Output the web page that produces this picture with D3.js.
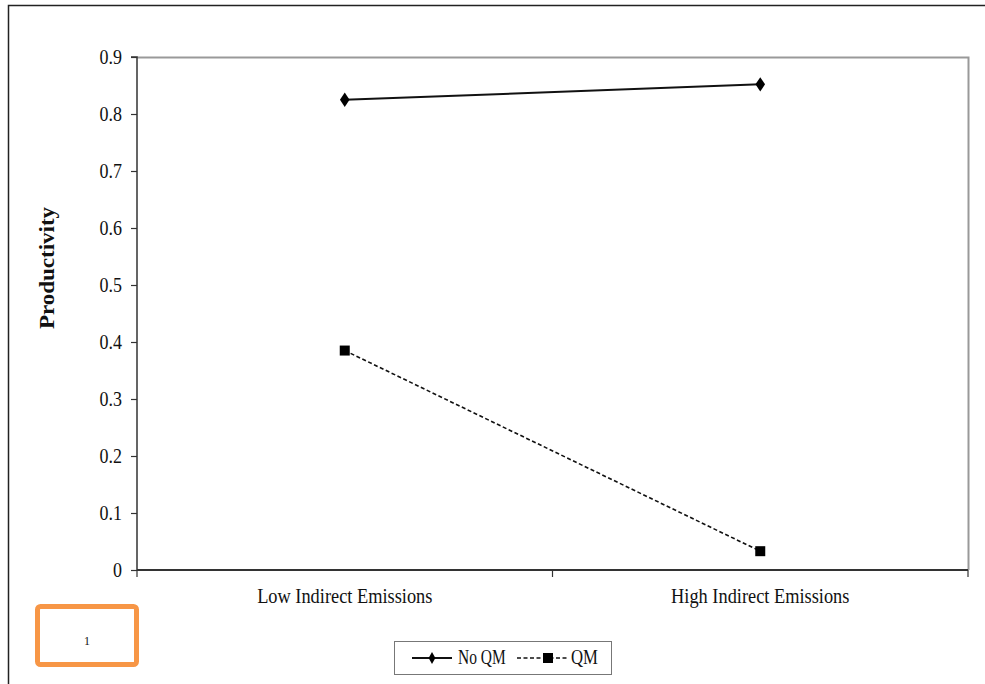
<!DOCTYPE html>
<html><head><meta charset="utf-8">
<script src="https://cdn.jsdelivr.net/npm/d3@7"></script>
<style>body{margin:0;background:#fff}svg{display:block}text{font-family:"Liberation Serif","Times New Roman",serif}</style>
</head><body>
<svg id="c" width="985" height="684"></svg>
<script>
const categories = ["Low Indirect Emissions", "High Indirect Emissions"];
const seriesNames = ["No QM", "QM"];
const noQM = [0.825, 0.852];
const qm = [0.385, 0.033];
const yTicks = [0, 0.1, 0.2, 0.3, 0.4, 0.5, 0.6, 0.7, 0.8, 0.9];

const svg = d3.select("#c");
const SY = 1.15; // vertical stretch of text, as in the reference
// outer frame
svg.append("path").attr("d","M8.5,690 V5.5 H990").attr("fill","none").attr("stroke","#222").attr("stroke-width",1.5);

const L=137, R=968, T=57, B=570;
const x = d3.scaleBand().domain(categories).range([L,R]).padding(0);
const y = d3.scaleLinear().domain([0,0.9]).range([B,T]);

// plot frame (gray top/right)
svg.append("path").attr("d",`M${L},${T+0.5} H${R+0.5} V${B}`).attr("fill","none").attr("stroke","#999").attr("stroke-width",2);

// y axis
const ya = svg.append("g").attr("transform",`translate(${L},0)`)
  .call(d3.axisLeft(y).tickValues(yTicks).tickFormat(d=>d===0?"0":d3.format(".1f")(d)).tickSize(6).tickPadding(9));
ya.select(".domain").attr("stroke","#333").attr("stroke-width",1.5).attr("d",`M-6,${T}H0V${B}`);
ya.selectAll("line").attr("stroke","#333").attr("stroke-width",1.2);
ya.selectAll("text").attr("font-size",18).attr("fill","#111").style("font-family","Liberation Serif")
  .attr("dy",null).attr("y",6).attr("transform",`scale(1,${SY})`);

// x axis
const xa = svg.append("g").attr("transform",`translate(0,${B})`);
xa.append("line").attr("x1",L).attr("x2",R).attr("stroke","#333").attr("stroke-width",2);
const xt=[L, L+x.bandwidth(), R];
xa.selectAll("line.t").data(xt).enter().append("line").attr("class","t")
  .attr("x1",d=>d).attr("x2",d=>d).attr("y1",0).attr("y2",7).attr("stroke","#333").attr("stroke-width",1.2);
xa.selectAll("text").data(categories).enter().append("text")
  .attr("transform",d=>`translate(${x(d)+x.bandwidth()/2},${33}) scale(1.02,${SY})`).attr("text-anchor","middle")
  .attr("font-size",18).attr("fill","#111").text(d=>d);

// y label
svg.append("text").attr("transform",`translate(54,268) rotate(-90) scale(${SY},1)`).attr("text-anchor","middle")
  .attr("font-size",20).attr("font-weight","bold").attr("fill","#111").text("Productivity");

const cx = d=>x(d)+x.bandwidth()/2;
const line = d3.line().x(d=>cx(d.c)).y(d=>y(d.v));
const d1 = categories.map((c,i)=>({c,v:noQM[i]}));
const d2 = categories.map((c,i)=>({c,v:qm[i]}));
svg.append("path").datum(d1).attr("d",line).attr("fill","none").attr("stroke","#111").attr("stroke-width",2);
svg.append("path").datum(d2).attr("d",line).attr("fill","none").attr("stroke","#111").attr("stroke-width",1.6).attr("stroke-dasharray","4,2.5");
const diamond = d3.symbol().type(d3.symbolDiamond).size(60);
svg.selectAll("path.dm").data(d1).enter().append("path").attr("class","dm")
  .attr("d",diamond).attr("transform",d=>`translate(${cx(d.c)},${y(d.v)}) scale(1.15,1)`).attr("fill","#000");
svg.selectAll("rect.sq").data(d2).enter().append("rect").attr("class","sq")
  .attr("x",d=>cx(d.c)-5).attr("y",d=>y(d.v)-5).attr("width",10).attr("height",10).attr("fill","#000");

// legend
const lg = svg.append("g");
lg.append("rect").attr("x",394.5).attr("y",641.5).attr("width",217).attr("height",33).attr("fill","#fff").attr("stroke","#777").attr("stroke-width",1);
lg.append("line").attr("x1",412).attr("x2",452).attr("y1",658).attr("y2",658).attr("stroke","#111").attr("stroke-width",2);
lg.append("path").attr("d",d3.symbol().type(d3.symbolDiamond).size(40)).attr("transform","translate(432,658)").attr("fill","#000");
lg.append("text").attr("transform",`translate(458,664) scale(0.86,${SY})`).attr("font-size",18).attr("fill","#111").text(seriesNames[0]);
lg.append("line").attr("x1",517).attr("x2",567).attr("y1",658).attr("y2",658).attr("stroke","#111").attr("stroke-width",1.6).attr("stroke-dasharray","4,2.5");
lg.append("rect").attr("x",543).attr("y",653).attr("width",10).attr("height",10).attr("fill","#000");
lg.append("text").attr("transform",`translate(571,664) scale(0.93,${SY})`).attr("font-size",18).attr("fill","#111").text(seriesNames[1]);

// orange annotation box
svg.append("rect").attr("x",37.5).attr("y",606.5).attr("width",99).attr("height",58).attr("rx",3)
  .attr("fill","#fff").attr("stroke","#f79646").attr("stroke-width",5);
svg.append("text").attr("x",87).attr("y",645).attr("text-anchor","middle").attr("font-size",12).attr("fill","#111").text("1");
</script>
</body></html>
